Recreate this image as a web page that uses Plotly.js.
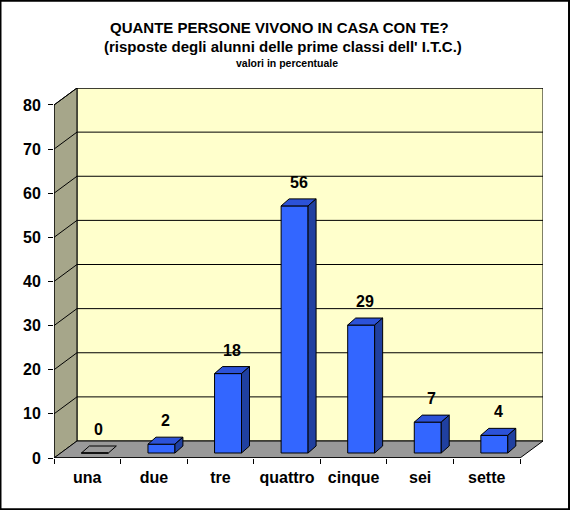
<!DOCTYPE html>
<html>
<head>
<meta charset="utf-8">
<script src="https://cdn.plot.ly/plotly-3.0.1.min.js"></script>
<style>
  body { margin: 0; background: #fff; }
  #chart { width: 570px; height: 510px; }
</style>
</head>
<body>
<div id="chart"></div>
<script>
var categories = ["una", "due", "tre", "quattro", "cinque", "sei", "sette"];
var values = [0, 2, 18, 56, 29, 7, 4];
var yTicks = [0, 10, 20, 30, 40, 50, 60, 70, 80];

// 3d look (in axis units)
var DX = 0.345, DY = 3.85;      // depth of the box
var FX = 0.114, FY = 1.13;      // where the bar front sits inside the box
var BX = 0.12, BY = 1.59;       // depth of one bar
var W = 0.405;                  // bar width
var YMAX = yTicks[yTicks.length - 1];
var N = categories.length;

var FRONT = "#3366FF", TOP = "#2C52D8", SIDE = "#2040A0";
var FONT = "Liberation Sans, Arial, sans-serif";

var data = [];
var shapes = [];
var annotations = [];

// walls and floor
shapes.push({type: "path", xref: "x", yref: "y", layer: "below",
  path: "M" + DX + "," + DY + " L" + (N + DX) + "," + DY + " L" + (N + DX) + "," + (YMAX + DY) + " L" + DX + "," + (YMAX + DY) + " Z",
  fillcolor: "#FFFFCC", line: {color: "#000", width: 1}});
shapes.push({type: "path", xref: "x", yref: "y", layer: "below",
  path: "M0,0 L" + DX + "," + DY + " L" + DX + "," + (YMAX + DY) + " L0," + YMAX + " Z",
  fillcolor: "#A6A68A", line: {color: "#000", width: 1}});
shapes.push({type: "path", xref: "x", yref: "y", layer: "below",
  path: "M0,0 L" + N + ",0 L" + (N + DX) + "," + DY + " L" + DX + "," + DY + " Z",
  fillcolor: "#999999", line: {color: "#000", width: 1}});

yTicks.forEach(function(v){
  if (v === 0) return;
  shapes.push({type: "line", xref: "x", yref: "y", layer: "below",
    x0: 0, y0: v, x1: DX, y1: v + DY, line: {color: "#000", width: 1}});
  shapes.push({type: "line", xref: "x", yref: "y", layer: "below",
    x0: DX, y0: v + DY, x1: N + DX, y1: v + DY, line: {color: "#000", width: 1}});
});
// front axis lines
shapes.push({type: "line", xref: "x", yref: "y", x0: 0, y0: 0, x1: N, y1: 0, line: {color: "#000", width: 1.5}});
shapes.push({type: "line", xref: "x", yref: "y", x0: 0, y0: 0, x1: 0, y1: YMAX, line: {color: "#000", width: 1}});

// bars
var xs = categories.map(function(c, i){ return i + 0.5 + FX; });
data.push({
  type: "bar", x: xs, y: values, base: FY, width: W,
  marker: {color: FRONT, line: {color: "#000", width: 1}},
  hoverinfo: "skip", showlegend: false
});

values.forEach(function(v, i){
  var x0 = xs[i] - W / 2, x1 = xs[i] + W / 2, t = FY + v;
  data.push({
    type: "scatter", mode: "lines", fill: "toself",
    x: [x0, x1, x1 + BX, x0 + BX, x0],
    y: [t, t, t + BY, t + BY, t],
    fillcolor: v > 0 ? TOP : "rgba(0,0,0,0)",
    line: {color: "#000", width: 1}, hoverinfo: "skip", showlegend: false
  });
  if (v > 0) {
    data.push({
      type: "scatter", mode: "lines", fill: "toself",
      x: [x1, x1 + BX, x1 + BX, x1, x1],
      y: [FY, FY + BY, t + BY, t, FY],
      fillcolor: SIDE,
      line: {color: "#000", width: 1}, hoverinfo: "skip", showlegend: false
    });
  }
  annotations.push({
    xref: "x", yref: "y", x: x0 + (W + BX) / 2, y: t + BY,
    yanchor: "bottom", yshift: 6, showarrow: false,
    text: "<b>" + v + "</b>", font: {family: FONT, size: 16, color: "#000"}
  });
});

// second and third title lines
annotations.push({
  xref: "paper", yref: "paper", x: 0.468, y: (458 - 46) / 370, xanchor: "center", yanchor: "middle",
  showarrow: false, text: "<b>(risposte degli alunni delle prime classi dell' I.T.C.)</b>",
  font: {family: FONT, size: 15, color: "#000"}
});
annotations.push({
  xref: "paper", yref: "paper", x: 0.4765, y: (458 - 63) / 370, xanchor: "center", yanchor: "middle",
  showarrow: false, text: "<b>valori in percentuale</b>",
  font: {family: FONT, size: 10.5, color: "#000"}
});

// outer border
shapes.push({type: "rect", xref: "paper", yref: "paper",
  x0: -54 / 489 + 0.001, x1: 516 / 489 - 0.002, y0: -52 / 370 + 0.002, y1: 458 / 370 - 0.002,
  line: {color: "#000", width: 2}, fillcolor: "rgba(0,0,0,0)"});

var centers = categories.map(function(c, i){ return i + 0.5; });
var bounds = categories.map(function(c, i){ return i; }).concat([N]);

var layout = {
  width: 570, height: 510,
  margin: {l: 54, r: 27, t: 88, b: 52},
  paper_bgcolor: "#fff", plot_bgcolor: "#fff",
  font: {family: FONT, color: "#000"},
  title: {
    text: "<b>QUANTE PERSONE VIVONO IN CASA CON TE?</b>",
    font: {family: FONT, size: 15, color: "#000"},
    x: 0.49, xref: "container", xanchor: "center",
    y: 1 - 28 / 510, yref: "container", yanchor: "middle"
  },
  bargap: 0,
  xaxis: {
    range: [0, N + DX], tickvals: bounds, ticks: "outside", ticklen: 5, tickcolor: "#000",
    showticklabels: false, showgrid: false, zeroline: false, showline: false, fixedrange: true
  },
  xaxis2: {
    overlaying: "x", anchor: "y", side: "bottom", range: [0, N + DX],
    tickvals: centers, ticktext: categories, ticks: "", ticklabelstandoff: 8,
    tickfont: {family: FONT, size: 16, color: "#000", weight: "bold"},
    showgrid: false, zeroline: false, showline: false, fixedrange: true
  },
  yaxis: {
    range: [0, YMAX + DY], tickvals: yTicks, ticks: "outside", ticklen: 5, tickcolor: "#000",
    ticklabelstandoff: 4,
    tickfont: {family: FONT, size: 16, color: "#000", weight: "bold"},
    showgrid: false, zeroline: false, showline: false, fixedrange: true
  },
  shapes: shapes,
  annotations: annotations
};

// invisible point so xaxis2 is drawn
data.push({type: "scatter", x: [centers[0]], y: [0], xaxis: "x2", mode: "markers",
  marker: {opacity: 0}, hoverinfo: "skip", showlegend: false});

Plotly.newPlot("chart", data, layout, {displayModeBar: false, staticPlot: true});
</script>
</body>
</html>
